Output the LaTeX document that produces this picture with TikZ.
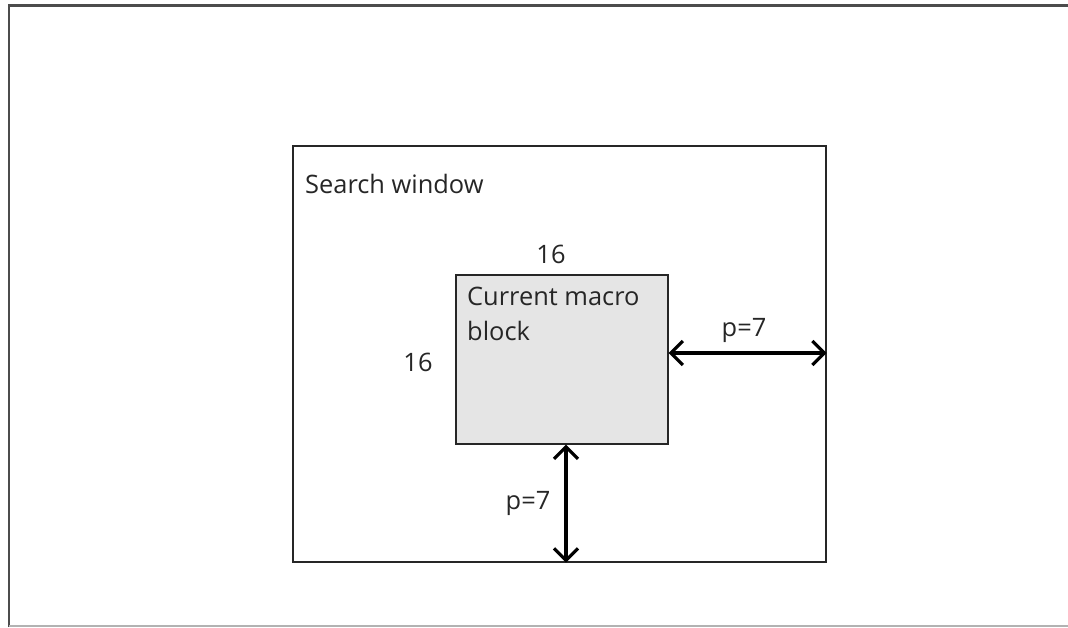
\documentclass[tikz,border=0pt]{standalone}
\usepackage{fontspec}
\setmainfont{Open Sans}
\usetikzlibrary{arrows.meta}
\begin{document}
\begin{tikzpicture}[x=1pt,y=-1pt,
  frame/.style={draw=black!85,line width=1.6pt},
  lbl/.style={font=\fontsize{25.4}{28}\selectfont,inner sep=0pt,text=black!85},
  dimarrow/.style={line width=3.2pt,{Straight Barb[length=12pt,width=24pt,line width=3.2pt]}-{Straight Barb[length=12pt,width=24pt,line width=3.2pt]}}]
\useasboundingbox (0,0) rectangle (1068,627);
% outer frame
\draw[draw=black!70,line width=2.4pt] (9,627) -- (9,5.5) -- (1068,5.5);
\draw[draw=black!30,line width=1.2pt] (9,626) -- (1068,626);
% search window
\node[frame,minimum width=533pt,minimum height=416pt,inner sep=0pt,anchor=north west] (sw) at (292,145) {};
\node[lbl,anchor=base west] (swt) at (305,193) {Search window};
% macro block
\node[frame,fill=black!10,minimum width=212pt,minimum height=169pt,inner sep=0pt,anchor=north west] (mb) at (455,274) {};
\node[lbl,anchor=base west,align=left] (mbt) at (467,305) {Current macro};
\node[lbl,anchor=base west] (mbt2) at (467,340) {block};
\node[lbl] (top16) at (551,254) {16};
\node[lbl] (left16) at (418,362) {16};
% arrows
\coordinate (rA) at (mb.east |- 0,353);
\coordinate (rB) at (sw.east |- 0,353);
\draw[dimarrow] (rA) -- (rB);
\node[lbl] (rp) at (744,330) {p=7};
\coordinate (bA) at (566,0 |- mb.south);
\coordinate (bB) at (566,0 |- sw.south);
\draw[dimarrow] (bA) -- (bB);
\node[lbl] (bp) at (528,503) {p=7};
\end{tikzpicture}
\end{document}
